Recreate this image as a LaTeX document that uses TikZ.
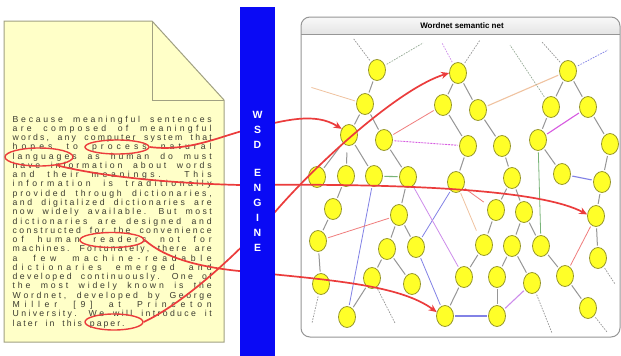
\documentclass[tikz,border=0pt]{standalone}
\usepackage{fontspec}
\setmainfont{Liberation Sans}
\newfontfamily\docfont{Liberation Sans}
\usetikzlibrary{shapes.geometric,arrows.meta}
\pgfdeclarelayer{back}
\pgfdeclarelayer{edges}
\pgfsetlayers{back,edges,main}
\definecolor{docfill}{RGB}{255,255,200}
\definecolor{docedge}{RGB}{160,160,130}
\definecolor{doctext}{RGB}{60,60,48}
\definecolor{arrowred}{RGB}{235,60,60}
\definecolor{barblue}{RGB}{10,10,245}
\definecolor{boxgray}{RGB}{150,150,150}
\definecolor{nodefill}{RGB}{255,255,40}
\definecolor{nodeedge}{RGB}{150,150,40}
\definecolor{treegray}{RGB}{150,150,150}
\definecolor{linkblue}{RGB}{130,130,230}
\definecolor{linkviolet}{RGB}{205,140,235}
\definecolor{linkmag}{RGB}{215,90,225}
\definecolor{linkpeach}{RGB}{240,195,160}
\definecolor{linkpink}{RGB}{240,125,125}
\definecolor{linkgreen}{RGB}{120,180,120}
\definecolor{linkgg}{RGB}{150,170,150}
% distributed justification: spaced, stretchable glue between letters
\newXeTeXintercharclass\lsclass
\makeatletter
\count@=`a \loop \XeTeXcharclass\count@=\lsclass \ifnum\count@<`z \advance\count@ 1 \repeat
\count@=`A \loop \XeTeXcharclass\count@=\lsclass \ifnum\count@<`Z \advance\count@ 1 \repeat
\count@=`0 \loop \XeTeXcharclass\count@=\lsclass \ifnum\count@<`9 \advance\count@ 1 \repeat
\makeatother
\XeTeXcharclass`\,=\lsclass
\XeTeXcharclass`\.=\lsclass
\XeTeXcharclass`\-=\lsclass
\XeTeXcharclass`\[=\lsclass
\XeTeXcharclass`\]=\lsclass
\XeTeXinterchartoks\lsclass\lsclass={\hskip 2pt plus 1fil\relax}
\newcommand{\jl}[1]{\makebox[199pt][s]{#1}}
\begin{document}
\begin{tikzpicture}[x=1pt,y=-1pt,
  wn/.style={ellipse, draw=nodeedge, fill=nodefill, minimum width=17pt, minimum height=21pt, inner sep=0pt, line width=0.8pt},
  tree/.style={draw=treegray, line width=1pt, shorten >=1.5pt, shorten <=1.5pt},
  dangle/.style={draw=#1, line width=0.7pt, dash pattern=on 1.6pt off 1.2pt, shorten <=2pt},
  link/.style={draw=#1, line width=0.8pt, shorten >=1.5pt, shorten <=1.5pt},
  dlink/.style={draw=#1, line width=0.9pt, dash pattern=on 2pt off 1pt, shorten >=1.5pt, shorten <=1.5pt},
  redarrow/.style={draw=arrowred, line width=1.7pt, -{Stealth[length=8pt,width=7pt]}},
  hilite/.style={ellipse, draw=arrowred, line width=1.4pt, inner sep=0pt}
]
\useasboundingbox (0,0) rectangle (621,356);
\begin{pgfonlayer}{back}
\fill[white] (0,0) rectangle (621,356);
% ---------- net box ----------
\begin{scope}
  \clip (300,16) rectangle (621,34);
  \shade[top color=gray!5, bottom color=gray!45, rounded corners=9pt] (301,17) rectangle (620,60);
\end{scope}
\draw[boxgray, line width=1pt, rounded corners=9pt] (301,17) rectangle (620,337);
\draw[boxgray, line width=0.8pt] (301,34) -- (620,34);
\end{pgfonlayer}
\node[font=\bfseries\fontsize{8}{9}\selectfont, inner sep=0pt] (title) at (462,26) {Wordnet semantic net};

% ---------- document ----------
\filldraw[fill=docfill, draw=docedge, line width=1pt] (4,21) -- (152,21) -- (224,100) -- (224,342) -- (4,342) -- cycle;
\draw[docedge, line width=1pt] (152,21) -- (152,100) -- (224,100);

\node[anchor=north west, inner sep=0pt, align=left, text=doctext,
      font={\docfont\fontsize{8.7}{9.27}\selectfont\XeTeXinterchartokenstate=1 \spaceskip=8pt plus 3fil\relax}] (para) at (12.5,115.6)
{\jl{Because meaningful sentences}\\
\jl{are composed of meaningful}\\
\jl{words, any computer system that}\\
\jl{hopes to process natural}\\
\jl{languages as human do must}\\
\jl{have information about words}\\
\jl{and their meanings. This}\\
\jl{information is traditionally}\\
\jl{provided through dictionaries,}\\
\jl{and digitalized dictionaries are}\\
\jl{now widely available. But most}\\
\jl{dictionaries are designed and}\\
\jl{constructed for the convenience}\\
\jl{of human readers not for}\\
\jl{machines. Fortunately, there are}\\
\jl{a few machine-readable}\\
\jl{dictionaries emerged and}\\
\jl{developed continuously. One of}\\
\jl{the most widely known is the}\\
\jl{Wordnet, developed by George}\\
\jl{Miller [9] at Princeton}\\
\jl{University. We will introduce it}\\
\mbox{later in this paper.}};

\node[hilite, minimum width=64pt, minimum height=14pt] (process) at (117,147) {};
\node[hilite, minimum width=68pt, minimum height=18pt] (languages) at (39,157) {};
\node[hilite, minimum width=64pt, minimum height=15pt] (readers) at (112,240) {};
\node[hilite, minimum width=58pt, minimum height=16pt] (paper) at (114,322) {};

% ---------- nodes ----------
\foreach \n/\x/\y in {A1/377/70,A2/365/104,A3/349/135,A4/384/140,
  B1/458/73,B2/443/105,B3/478/110,B4/468/146,B5/502/146,
  C1/568/71,C2/551/107,C3/588/107,C4/538/140,C5/610/144,
  D1/317/177,D2/346/176,D3/374/176,D4/408/177,D5/456/182,D6/512/178,D7/562/174,D8/602/182,
  E1/333/209,E2/399/215,E3/496/210,E4/524/212,E5/596/216,
  F1/318/241,F2/387/249,F3/416/247,F4/484/245,F5/512/246,F6/541/246,F7/598/258,
  G1/321/284,G2/372/278,G3/412/284,G4/464/277,G5/497/277,G6/532/283,G7/565/276,
  H1/347/317,H2/445/316,H3/497/316,H4/588/308}
  \node[wn] (\n) at (\x,\y) {};

% dangling end points
\coordinate (dA1l) at (353,38);
\coordinate (dA1r) at (423,43);
\coordinate (dA2) at (310,87);
\coordinate (dB1l) at (442,43);
\coordinate (dB1r) at (480,40);
\coordinate (dC2) at (510,45);
\coordinate (dC1l) at (542,42);
\coordinate (dC1r) at (608,50);
\coordinate (dD2) at (347,151);
\coordinate (dG1) at (312,323);
\coordinate (dG2) at (395,323);
\coordinate (dG6) at (552,333);
\coordinate (dF7) at (615,284);
\coordinate (dH4) at (607,332);
\coordinate (dD5a) at (477,232);
\coordinate (dD5b) at (485,203);

% ---------- edges (behind nodes) ----------
\begin{pgfonlayer}{edges}
\foreach \a/\b in {A1/A2,A2/A3,A2/A4,A3/D1,A3/D3,A4/D4,D2/E1,E1/F1,F1/G1,D4/E2,E2/F2,E2/F3,F2/G2,F2/G3,G2/H1,
  B1/B2,B1/B3,B2/B4,B3/B5,B4/D5,B5/D6,D6/E3,D6/E4,E3/F4,E4/F5,E4/F6,F4/G4,F5/G5,F5/G6,G5/H3,F6/G7,G7/H4,G4/H2,
  C1/C2,C1/C3,C2/C4,C3/C5,C4/D7,C5/D8,D8/E5,E5/F7}
  \draw[tree] (\a) -- (\b);
\draw[link=linkblue] (D3) -- (H1);
\draw[link=linkblue] (F3) -- (D5);
\draw[link=linkblue] (F3) -- (H2);
\draw[link=linkblue, line width=1.1pt] (H2) -- (H3);
\draw[link=linkblue, line width=1.1pt] (D7) -- (D8);
\draw[link=linkviolet] (D4) -- (G4);
\draw[link=linkviolet, line width=1.1pt] (G6) -- (H3);
\draw[dlink=linkmag] (A4) -- (B4);
\draw[link=linkmag, line width=1.1pt] (C3) -- (C4);
\draw[link=linkpink] (A4) -- (B2);
\draw[link=linkpink] (F1) -- (E2);
\draw[link=linkpink] (G7) -- (E5);
\draw[link=linkpeach, line width=1.1pt] (B3) -- (C1);
\draw[link=linkgreen] (C4) -- (F6);
\draw[link=linkgreen, line width=1.1pt] (D3) -- (D4);
\draw[dangle=treegray] (A1) -- (dA1l);
\draw[dangle=linkgg] (A1) -- (dA1r);
\draw[link=linkpeach] (A2) -- (dA2);
\draw[dangle=linkviolet] (B1) -- (dB1l);
\draw[dangle=treegray] (B1) -- (dB1r);
\draw[dangle=linkgg] (C2) -- (dC2);
\draw[dangle=treegray] (C1) -- (dC1l);
\draw[dangle=linkblue] (C1) -- (dC1r);
\draw[tree] (D2) -- (dD2);
\draw[dangle=treegray] (G1) -- (dG1);
\draw[dangle=treegray] (G2) -- (dG2);
\draw[dangle=treegray] (G6) -- (dG6);
\draw[dangle=treegray] (F7) -- (dF7);
\draw[dangle=treegray] (H4) -- (dH4);
\draw[link=linkpeach] (D5) -- (dD5a);
\draw[link=linkpink] (D5) -- (dD5b);
\end{pgfonlayer}

% ---------- red arrows ----------
\draw[redarrow] (process.east) .. controls (190,152) and (220,136) .. (250,129)
   .. controls (285,120) and (315,112) .. (A3.140);
\draw[redarrow] (languages.-25) .. controls (95,175) and (160,183) .. (240,185)
   .. controls (430,183) and (545,192) .. (E5.170);
\draw[redarrow] (readers.east) .. controls (165,258) and (200,268) .. (250,272)
   .. controls (330,280) and (400,285) .. (H2.155);
\draw[redarrow] (paper.east) .. controls (180,305) and (230,262) .. (275,212)
   .. controls (318,162) and (400,88) .. (B1.west);

% ---------- WSD engine bar ----------
\fill[barblue] (240,7) rectangle (275,357);
\node[text=white, font=\bfseries\fontsize{10.5}{15}\selectfont, align=center, inner sep=0pt] (wsd) at (257.5,181.5)
  {W\\S\\D\\[13pt]E\\N\\G\\I\\N\\E};
\end{tikzpicture}
\end{document}
